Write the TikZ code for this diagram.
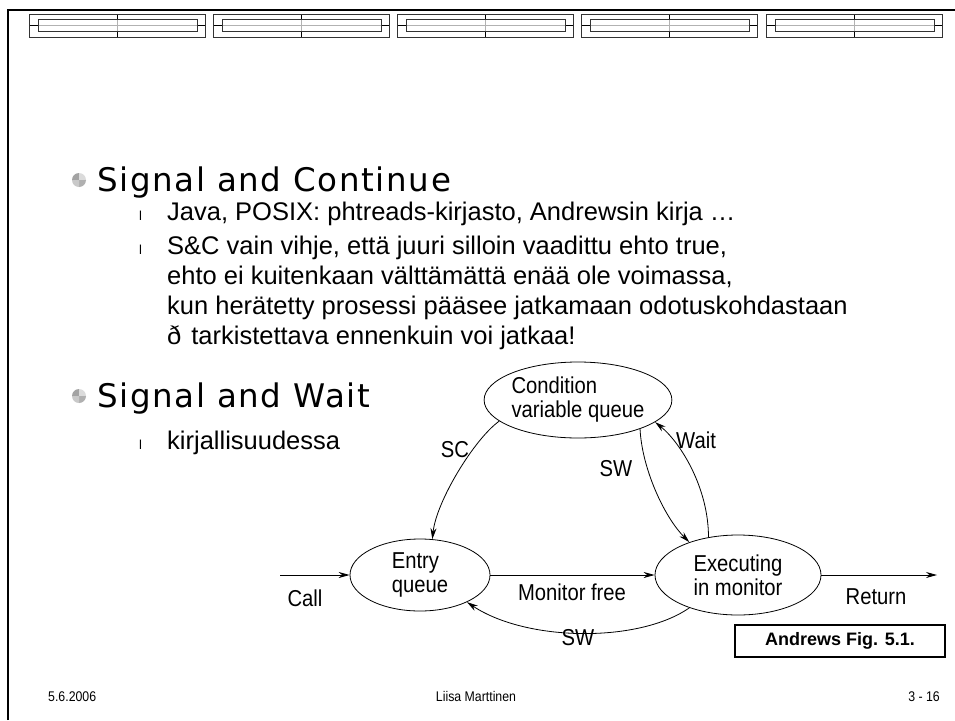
\documentclass[tikz,border=0pt]{standalone}
\usepackage{fontspec}
\setmainfont{Liberation Sans}
\newfontfamily\titlefont[LetterSpace=5]{DejaVu Sans}
\newfontfamily\narrowfont[FakeStretch=0.88]{Liberation Sans}
\newfontfamily\footfont[FakeStretch=0.88]{Liberation Sans}
\usetikzlibrary{shapes.geometric,arrows.meta}

\begin{document}
\begin{tikzpicture}[x=1pt,y=-1pt,
  state/.style={draw, ellipse, line width=0.8pt, inner sep=0pt, align=left,
    font=\narrowfont\fontsize{23}{24}\selectfont},
  flow/.style={draw, line width=0.8pt, -{Stealth[length=11pt,width=6pt]}},
  lab/.style={inner sep=0pt, font=\narrowfont\fontsize{23}{24}\selectfont},
  headline/.style={inner sep=0pt, anchor=base west, font=\titlefont\fontsize{32.5}{34}\selectfont},
  bodyline/.style={inner sep=0pt, anchor=base west, font=\fontsize{25.5}{30}\selectfont},
  subbullet/.style={inner sep=0pt, anchor=base west, font=\fontsize{13}{14}\selectfont},
  foot/.style={inner sep=0pt, anchor=base, font=\footfont\fontsize{14}{16}\selectfont},
  ball/.pic={
    \fill[gray!72] (0,0) -- (-7,0) arc[start angle=180,end angle=270,radius=7] -- cycle;
    \fill[gray!28] (0,0) -- (0,-7) arc[start angle=270,end angle=360,radius=7] -- cycle;
    \fill[gray!62] (0,0) -- (7,0) arc[start angle=0,end angle=90,radius=7] -- cycle;
    \fill[gray!42] (0,0) -- (0,7) arc[start angle=90,end angle=180,radius=7] -- cycle;
  }]

\useasboundingbox (0,0) rectangle (955,720);
\fill[white] (0,0) rectangle (955,720);

% slide frame
\draw[line width=2.5pt] (8,720) -- (8,10) -- (955,10);

% header ornament
\foreach \x in {29,213,397,581,766} {
  \draw[gray!60, line width=0.8pt] (\x+9,25.5) -- (\x+168,25.5);
  \draw[gray!60, line width=0.8pt] (\x+88,19.5) -- (\x+88,31.5);
  \draw[black, line width=0.8pt] (\x,25.5) -- (\x+9,25.5) (\x+168,25.5) -- (\x+176,25.5);
  \draw[black, line width=0.8pt] (\x+88,14) -- (\x+88,19.5) (\x+88,31.5) -- (\x+88,37);
  \draw[black!80, line width=0.8pt] (\x,14) rectangle (\x+176,37);
  \draw[black!80, line width=0.8pt] (\x+9,19.5) rectangle (\x+168,31.5);
}

% first topic
\pic at (79,180) {ball};
\node[headline] (t1) at (97,191) {Signal and Continue};
\node[subbullet] (b1) at (139,220) {l};
\node[bodyline] (l1) at (167,220) {Java, POSIX: phtreads-kirjasto, Andrewsin kirja …};
\node[subbullet] (b2) at (139,254) {l};
\node[bodyline] (l2) at (167,254) {S\&C vain vihje, että juuri silloin vaadittu ehto true,};
\node[bodyline] (l3) at (167,284) {ehto ei kuitenkaan välttämättä enää ole voimassa,};
\node[bodyline] (l4) at (167,314) {kun herätetty prosessi pääsee jatkamaan odotuskohdastaan};
\node[bodyline] (l5) at (167,344) {ð\hspace{10pt}tarkistettava ennenkuin voi jatkaa!};

% second topic
\pic at (79,396) {ball};
\node[headline] (t2) at (97,407) {Signal and Wait};
\node[subbullet] (b3) at (139,449) {l};
\node[bodyline] (l6) at (167,449) {kirjallisuudessa};

% monitor states
\node[state, minimum width=150, minimum height=76] (cond) at (578,400) {Condition\\variable queue};
\node[state, minimum width=140, minimum height=72] (entry) at (420,575) {Entry\\queue};
\node[state, minimum width=166, minimum height=80] (exec) at (738,575) {Executing\\in monitor};
\coordinate (callin) at (280,575);
\coordinate (retout) at (937,575);

\draw[flow] (callin) -- (entry.west);
\draw[flow] (entry.east) -- (exec.west);
\draw[flow] (exec.east) -- (retout);
\draw[flow] (cond.195) .. controls +(-25,18) and +(4,-38) .. (entry.71);
\draw[flow] (cond.335) .. controls +(2,40) and +(-25,-25) .. (exec.146);
\draw[flow] (exec.128) .. controls +(0,-50) and +(25,20) .. (cond.344);
\draw[flow] (exec.214) .. controls +(-50,35) and +(60,40) .. (entry.330);

\node[lab] (call) at (305,598) {Call};
\node[lab] (free) at (572,592) {Monitor free};
\node[lab] (ret) at (876,597) {Return};
\node[lab] (sc) at (455,450) {SC};
\node[lab] (sw1) at (616,469) {SW};
\node[lab] (wait) at (696,440) {Wait};
\node[lab] (sw2) at (578,638) {SW};

\node[draw, line width=1.5pt, minimum width=210, minimum height=32, inner sep=0pt,
  font=\bfseries\fontsize{18}{20}\selectfont] (fig) at (840,641) {Andrews Fig. 5.1.};

% footer
\node[foot, anchor=base west] (date) at (48,701) {5.6.2006};
\node[foot] (author) at (476,701) {Liisa Marttinen};
\node[foot, anchor=base east] (page) at (940,701) {3 - 16};
\end{tikzpicture}
\end{document}
